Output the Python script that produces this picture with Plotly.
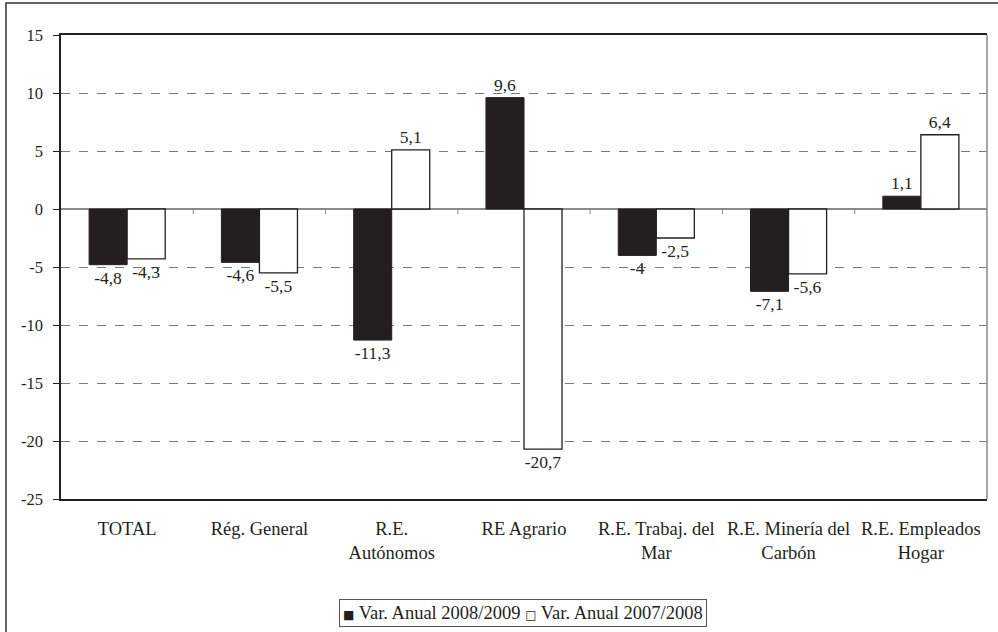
import plotly.graph_objects as go

categories = ["TOTAL", "Rég. General", "R.E.<br>Autónomos", "RE Agrario",
              "R.E. Trabaj. del<br>Mar", "R.E. Minería del<br>Carbón", "R.E. Empleados<br>Hogar"]
var_2008_2009 = [-4.8, -4.6, -11.3, 9.6, -4.0, -7.1, 1.1]
var_2007_2008 = [-4.3, -5.5, 5.1, -20.7, -2.5, -5.6, 6.4]
series_names = ["Var. Anual 2008/2009", "Var. Anual 2007/2008"]
y_ticks = [15, 10, 5, 0, -5, -10, -15, -20, -25]


def fmt(v):
    return ("%g" % v).replace(".", ",")


FONT = "'Times New Roman', 'Liberation Serif', Times, serif"
INK = "#231f20"

W, H = 998, 632
ML, MT = 61, 35
PW, PH = 926, 464
MR, MB = W - ML - PW, H - MT - PH


def px_x(p):
    return (p - ML) / PW


def px_y(p):
    return 1 - (p - MT) / PH


fig = go.Figure()
fig.add_trace(go.Bar(
    x=list(range(len(categories))), y=var_2008_2009, name=series_names[0],
    marker=dict(color=INK, line=dict(color=INK, width=1)),
    text=[fmt(v) for v in var_2008_2009], textposition="outside",
    textfont=dict(family=FONT, size=17.5, color=INK), cliponaxis=False,
))
fig.add_trace(go.Bar(
    x=list(range(len(categories))), y=var_2007_2008, name=series_names[1],
    marker=dict(color="white", line=dict(color=INK, width=1.3)),
    text=[fmt(v) for v in var_2007_2008], textposition="outside",
    textfont=dict(family=FONT, size=17.5, color=INK), cliponaxis=False,
))

shapes = []
for i in range(1, len(categories)):
    shapes.append(dict(type="line", xref="x", yref="y", x0=i - 0.5, x1=i - 0.5,
                       y0=0, y1=-0.45, line=dict(color="#8a8a8a", width=1)))
shapes.append(dict(type="line", xref="paper", yref="paper", x0=1, x1=1, y0=0, y1=1,
                   line=dict(color="#8a8a8a", width=1.5)))
shapes.append(dict(type="rect", xref="paper", yref="paper",
                   x0=px_x(6), x1=px_x(1010), y0=px_y(650), y1=px_y(3),
                   line=dict(color="#333333", width=1.5), layer="below"))

SQ = "<span style='font-family:DejaVu Sans;font-size:12px'>%s</span>"
legend_text = (SQ % "■") + " " + series_names[0] + " " + (SQ % "□") + " " + series_names[1]

fig.update_layout(
    width=W, height=H,
    margin=dict(l=ML, r=MR, t=MT, b=MB),
    paper_bgcolor="white", plot_bgcolor="white",
    barmode="group", bargap=0.425, bargroupgap=0,
    font=dict(family=FONT, size=17, color=INK),
    showlegend=False,
    shapes=shapes,
    annotations=[dict(
        xref="paper", yref="paper", x=px_x(523), y=px_y(613), xanchor="center", yanchor="middle",
        text=legend_text, showarrow=False, font=dict(family=FONT, size=18.5, color=INK),
        bordercolor="#555555", borderwidth=1, borderpad=3, bgcolor="white",
    )],
    xaxis=dict(
        tickmode="array", tickvals=list(range(len(categories))), ticktext=categories,
        range=[-0.5, len(categories) - 0.5],
        showline=True, linecolor=INK, linewidth=1.5, mirror=True,
        ticks="", showgrid=False, zeroline=False,
        ticklabelstandoff=12,
        tickfont=dict(family=FONT, size=18.5, color=INK),
    ),
    yaxis=dict(
        range=[-25, 15], tickmode="array", tickvals=y_ticks,
        ticktext=[str(v) for v in y_ticks],
        showline=True, linecolor=INK, linewidth=1.5,
        ticks="outside", ticklen=6, tickcolor=INK, tickwidth=1,
        showgrid=True, gridcolor="#7a7a7a", griddash="dash", gridwidth=1,
        zeroline=True, zerolinecolor="#8a8a8a", zerolinewidth=1.5,
        tickfont=dict(family=FONT, size=16.5, color=INK),
        ticklabelstandoff=7,
    ),
)

fig.write_html("out.html", config={"displayModeBar": False},
               post_script="document.body.style.margin='0';")
